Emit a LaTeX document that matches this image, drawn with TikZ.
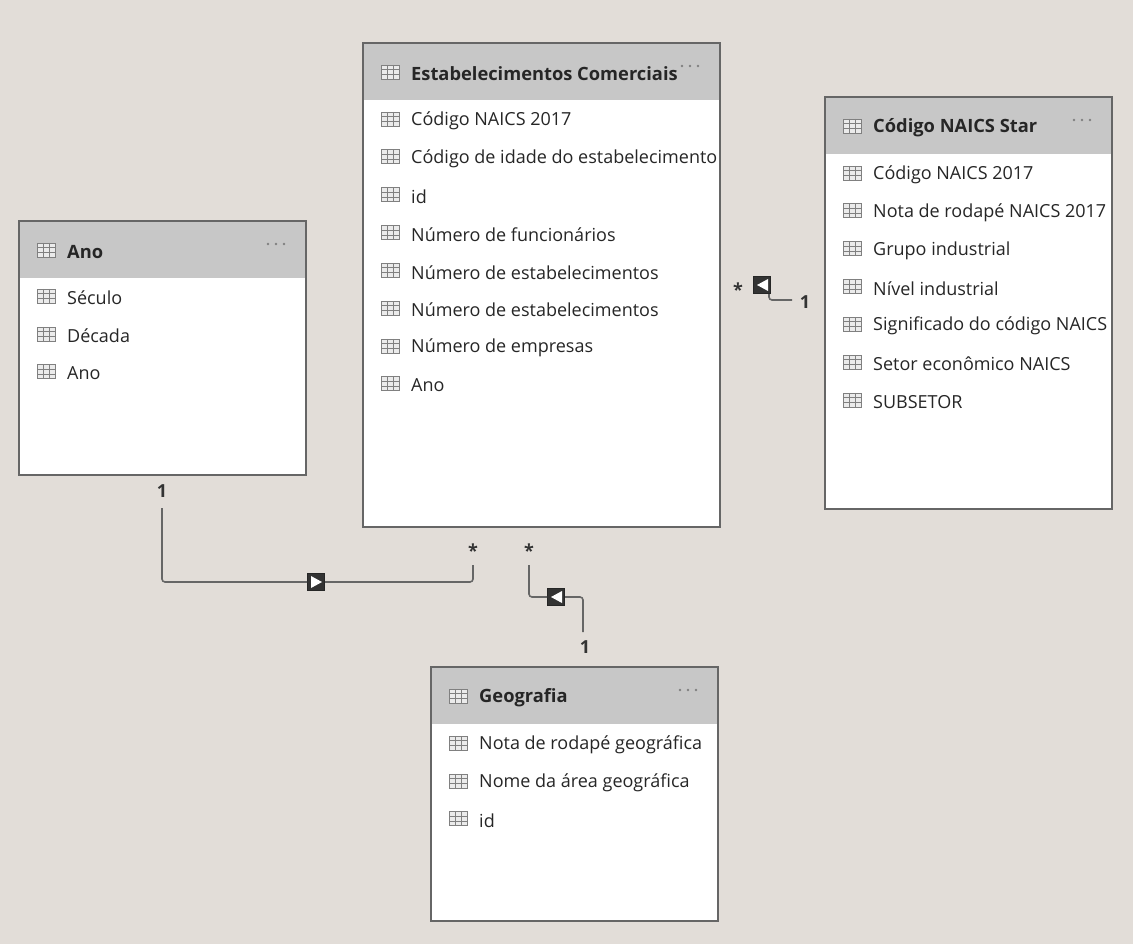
\documentclass[tikz,border=0pt]{standalone}
\usepackage{fontspec}
\setmainfont{Open Sans}
\begin{document}
\begin{tikzpicture}[x=1pt,y=-1pt,
  tbl/.style={draw=black!60,line width=1.2pt,fill=white},
  hdr/.style={fill=black!22},
  row/.style={anchor=west,font=\fontsize{18}{20}\selectfont,text=black!85,inner sep=0pt},
  htxt/.style={anchor=west,font=\fontsize{18.3}{22}\selectfont\bfseries,text=black!85,inner sep=0pt},
  conn/.style={draw=black!60,line width=1.6pt,rounded corners=3pt},
  lbl/.style={font=\fontsize{18}{20}\selectfont\bfseries,text=black!80,inner sep=0pt},
  mk/.style={draw=black!85,fill=black!80,line width=1pt,minimum size=17pt,inner sep=0pt}]
\fill[black!10!white!92!brown] (0,0) rectangle (1133,944);
\useasboundingbox (0,0) rectangle (1133,944);
\newcommand{\ticon}[2]{%
  \pgfmathsetmacro\tx{#1}\pgfmathsetmacro\ty{#2}%
  \draw[black!50,fill=black!8,line width=0.6pt] (\tx,\ty-7) rectangle (\tx+18,\ty+7);
  \draw[black!50,line width=0.6pt] (\tx,\ty-2.5)--(\tx+18,\ty-2.5) (\tx,\ty+2.5)--(\tx+18,\ty+2.5) (\tx+6,\ty-7)--(\tx+6,\ty+7) (\tx+12,\ty-7)--(\tx+12,\ty+7);}
\newcommand{\tabl}[8]{% name x1 y1 x2 y2 title rows startY
  \draw[tbl] (#2,#3) rectangle (#4,#5);
  \fill[hdr] (#2+0.6,#3+0.6) rectangle (#4-0.6,#3+57);
  \node[inner sep=0pt,minimum width=#4pt-#2pt,minimum height=#5pt-#3pt] (#1) at ({(#2+#4)/2},{(#3+#5)/2}) {};
  \ticon{#2+18}{#3+29}
  \node[htxt] (#1-t) at (#2+48,#3+31) {#6};
  \foreach \d in {0,8,16}{\fill[black!50] (#4-38+\d,#3+23) circle (1.3);}
  \foreach [count=\i] \rr in {#7}{
    \pgfmathsetmacro\yy{#8+(\i-1)*37.8}
    \ticon{#2+18}{\yy}
    \node[row] at (#2+48,\yy+2) {\rr};}
}
\tabl{ano}{19}{221}{306}{475}{Ano}{Século,Década,Ano}{296}
\tabl{est}{363}{43}{720}{527}{Estabelecimentos Comerciais}{Código NAICS 2017,Código de idade do estabelecimento,id,Número de funcionários,Número de estabelecimentos,Número de estabelecimentos,Número de empresas,Ano}{119}
\tabl{naics}{825}{97}{1112}{509}{Código NAICS Star}{Código NAICS 2017,Nota de rodapé NAICS 2017,Grupo industrial,Nível industrial,Significado do código NAICS,Setor econômico NAICS,SUBSETOR}{173}
\tabl{geo}{431}{667}{718}{921}{Geografia}{Nota de rodapé geográfica,Nome da área geográfica,id}{743}
% connectors
\coordinate (a1) at (162,508);
\coordinate (a2) at (473,565);
\node[mk] (m1) at (316,582) {};
\draw[conn] (a1) |- (m1.west);
\draw[conn] (m1.east) -| (a2);
\fill[white] (m1.center)+(-5,-6) -- +(6,0) -- +(-5,6) -- cycle;
\node[lbl] at (162,491) {1};
\node[lbl] at (473,551) {*};
\coordinate (g1) at (529,565);
\coordinate (g2) at (583,632);
\node[mk] (m2) at (556,597) {};
\draw[conn] (g1) |- (m2.west);
\draw[conn] (m2.east) -| (g2);
\fill[white] (m2.center)+(6,-6) -- +(-5,0) -- +(6,6) -- cycle;
\node[lbl] at (529,551) {*};
\node[lbl] at (585,647) {1};
\node[mk] (m3) at (762,285) {};
\coordinate (n1) at (792,300);
\draw[conn] (m3.south east) ++(-2,0) |- (n1);
\fill[white] (m3.center)+(6,-6) -- +(-5,0) -- +(6,6) -- cycle;
\node[lbl] at (738,290) {*};
\node[lbl] at (805,302) {1};
\end{tikzpicture}
\end{document}
